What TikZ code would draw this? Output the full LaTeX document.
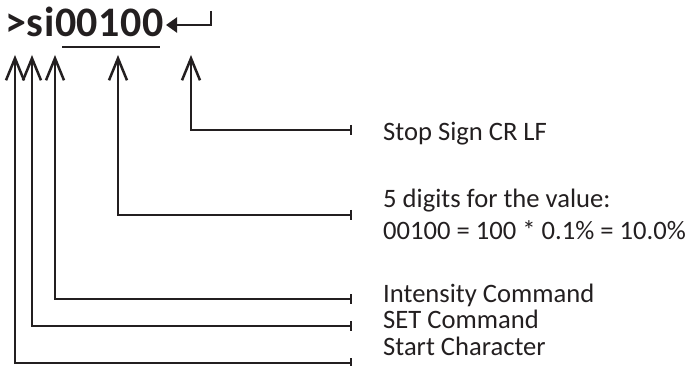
\documentclass[tikz,border=0pt]{standalone}
\usepackage{fontspec}
\setmainfont{Carlito}
\usetikzlibrary{arrows.meta}
\definecolor{ink}{RGB}{35,31,32}
\tikzset{
  lead/.style={draw=ink, line width=2.5pt, line cap=butt,
    {Bar[width=10pt,line width=2.5pt]}-{Straight Barb[length=22pt,width=18pt,line width=2.5pt]}},
  lbl/.style={anchor=base west, inner sep=0pt, text=ink, font=\fontsize{26.6}{31}\selectfont},
}
\begin{document}
\begin{tikzpicture}[x=1pt,y=-1pt]
\useasboundingbox (0,0) rectangle (688,366);

% command string
\node[anchor=base west, inner sep=0pt, text=ink,
      font=\fontsize{42}{44}\selectfont\bfseries\addfontfeature{LetterSpace=1.5}]
  (cmd) at (5,37) {>si00100};
\draw[ink, line width=2.7pt] (62,47) -- (160,47);
% carriage-return symbol
\coordinate (crtop) at (211,11);
\coordinate (crtip) at (166,25);
\draw[ink, line width=2.3pt, -{Triangle[length=11pt,width=15pt]}]
  (crtop) |- (crtip);

% arrow targets under the characters
\coordinate (tStart) at (15,55);
\coordinate (tSet)   at (32,55);
\coordinate (tInt)   at (55,55);
\coordinate (tVal)   at (118,55);
\coordinate (tStop)  at (191,55);

% ends of the leader lines
\coordinate (eStop)  at (352,130);
\coordinate (eVal)   at (352,215);
\coordinate (eInt)   at (352,299);
\coordinate (eSet)   at (352,326);
\coordinate (eStart) at (352,363);

\draw[lead] (eStop)  -| (tStop);
\draw[lead] (eVal)   -| (tVal);
\draw[lead] (eInt)   -| (tInt);
\draw[lead] (eSet)   -| (tSet);
\draw[lead] (eStart) -| (tStart);

% descriptions
\node[lbl] (lStop)  at (383,141) {Stop Sign CR LF};
\node[lbl] (lVal)   at (383,208) {5 digits for the value:};
\node[lbl] (lVal2)  at (383,240) {00100 = 100 * 0.1\% = 10.0\%};
\node[lbl] (lInt)   at (383,302) {Intensity Command};
\node[lbl] (lSet)   at (383,328) {SET Command};
\node[lbl] (lStart) at (383,355) {Start Character};
\end{tikzpicture}
\end{document}
